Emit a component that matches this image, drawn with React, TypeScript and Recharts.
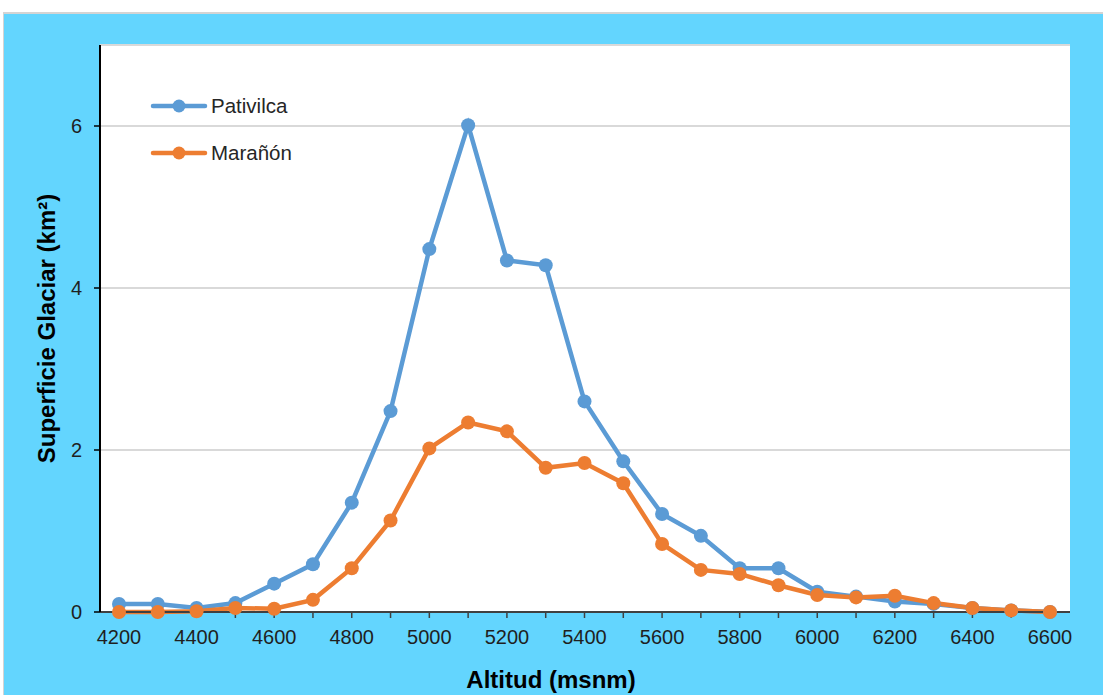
import { CartesianGrid, Label, Legend, Line, LineChart, XAxis, YAxis } from 'recharts';

const altitudes = [
  4200, 4300, 4400, 4500, 4600, 4700, 4800, 4900, 5000, 5100, 5200, 5300, 5400,
  5500, 5600, 5700, 5800, 5900, 6000, 6100, 6200, 6300, 6400, 6500, 6600,
];

const pativilca = [
  0.1, 0.1, 0.05, 0.11, 0.35, 0.59, 1.35, 2.48, 4.48, 6.01, 4.34, 4.28, 2.6,
  1.86, 1.21, 0.94, 0.54, 0.54, 0.25, 0.19, 0.13, 0.1, 0.05, 0.02, 0.0,
];

const maranon = [
  0.0, 0.0, 0.01, 0.05, 0.04, 0.15, 0.54, 1.13, 2.02, 2.34, 2.23, 1.78, 1.84,
  1.59, 0.84, 0.52, 0.47, 0.33, 0.21, 0.18, 0.2, 0.11, 0.05, 0.02, 0.0,
];

const seriesNames = ['Pativilca', 'Marañón'];
const yTicks = [0, 2, 4, 6];

const data = altitudes.map((alt, i) => ({ alt, pativilca: pativilca[i], maranon: maranon[i] }));

const BLUE = '#5b9bd5';
const ORANGE = '#ed7d31';
const FONT = '"Liberation Sans", Arial, sans-serif';

function LegendBox({ payload }: any) {
  const items = [...(payload ?? [])].sort(
    (a: any, b: any) => seriesNames.indexOf(a.value) - seriesNames.indexOf(b.value),
  );
  return (
    <div style={{ fontFamily: FONT, fontSize: 20.5, color: '#262626' }}>
      {items.map((p: any) => (
        <div key={p.value} style={{ display: 'flex', alignItems: 'center', height: 47 }}>
          <svg width={58} height={16} style={{ marginRight: 3 }}>
            <line x1={3} y1={8} x2={55} y2={8} stroke={p.color} strokeWidth={4.5} strokeLinecap="round" />
            <circle cx={29} cy={8} r={6.5} fill={p.color} />
          </svg>
          <span>{p.value}</span>
        </div>
      ))}
    </div>
  );
}

export default function App() {
  return (
    <div style={{ position: 'absolute', left: 0, top: 0, width: 1103, height: 695, background: '#fff', overflow: 'hidden' }}>
      <div
        style={{
          position: 'absolute',
          left: 3,
          top: 12,
          width: 1100,
          height: 683,
          background: '#63d5fe',
          borderTop: '2px solid #d4d4d4',
          borderLeft: '1px solid #d4d4d4',
          boxSizing: 'border-box',
        }}
      />
      <div style={{ position: 'absolute', left: 0, top: 0 }}>
        <LineChart
          width={1103}
          height={695}
          data={data}
          margin={{ top: 45, right: 33, bottom: 0, left: -8 }}
          style={{ fontFamily: FONT }}
        >
          <CartesianGrid vertical={false} fill="#fff" fillOpacity={1} stroke="#d9d9d9" strokeWidth={2} />
          <XAxis
            dataKey="alt"
            type="category"
            interval={0}
            height={83}
            padding={{ left: 19, right: 20 }}
            tickFormatter={(v, i) => (i % 2 === 0 ? String(v) : '')}
            tick={{ fontSize: 20, fill: '#1f1f1f' }}
            tickSize={6}
            tickMargin={12}
            tickLine={{ stroke: '#404040', strokeWidth: 1.5 }}
            axisLine={{ stroke: '#404040', strokeWidth: 2 }}
          >
            <Label
              value="Altitud (msnm)"
              position="insideBottom"
              offset={7}
              dx={-34}
              style={{ fontSize: 24, fontWeight: 'bold', fill: '#000' }}
            />
          </XAxis>
          <YAxis
            domain={[0, 7]}
            ticks={yTicks}
            width={108}
            tick={{ fontSize: 20, fill: '#1f1f1f' }}
            tickSize={6}
            tickMargin={12}
            tickLine={{ stroke: '#000', strokeWidth: 1.5 }}
            axisLine={{ stroke: '#000', strokeWidth: 2 }}
          >
            <Label
              value="Superficie Glaciar (km²)"
              angle={-90}
              position="center"
              style={{ fontSize: 24, fontWeight: 'bold', fill: '#000', textAnchor: 'middle' }}
            />
          </YAxis>
          <Legend
            layout="horizontal"
            align="center"
            verticalAlign="middle"
            content={<LegendBox />}
            wrapperStyle={{ left: 150, top: 82, width: 200 }}
          />
          <Line
            type="linear"
            dataKey="pativilca"
            name="Pativilca"
            stroke={BLUE}
            strokeWidth={4.5}
            dot={{ r: 7, fill: BLUE, stroke: 'none' }}
            activeDot={false}
            isAnimationActive={false}
          />
          <Line
            type="linear"
            dataKey="maranon"
            name="Marañón"
            stroke={ORANGE}
            strokeWidth={4.5}
            dot={{ r: 7, fill: ORANGE, stroke: 'none' }}
            activeDot={false}
            isAnimationActive={false}
          />
        </LineChart>
      </div>
    </div>
  );
}
